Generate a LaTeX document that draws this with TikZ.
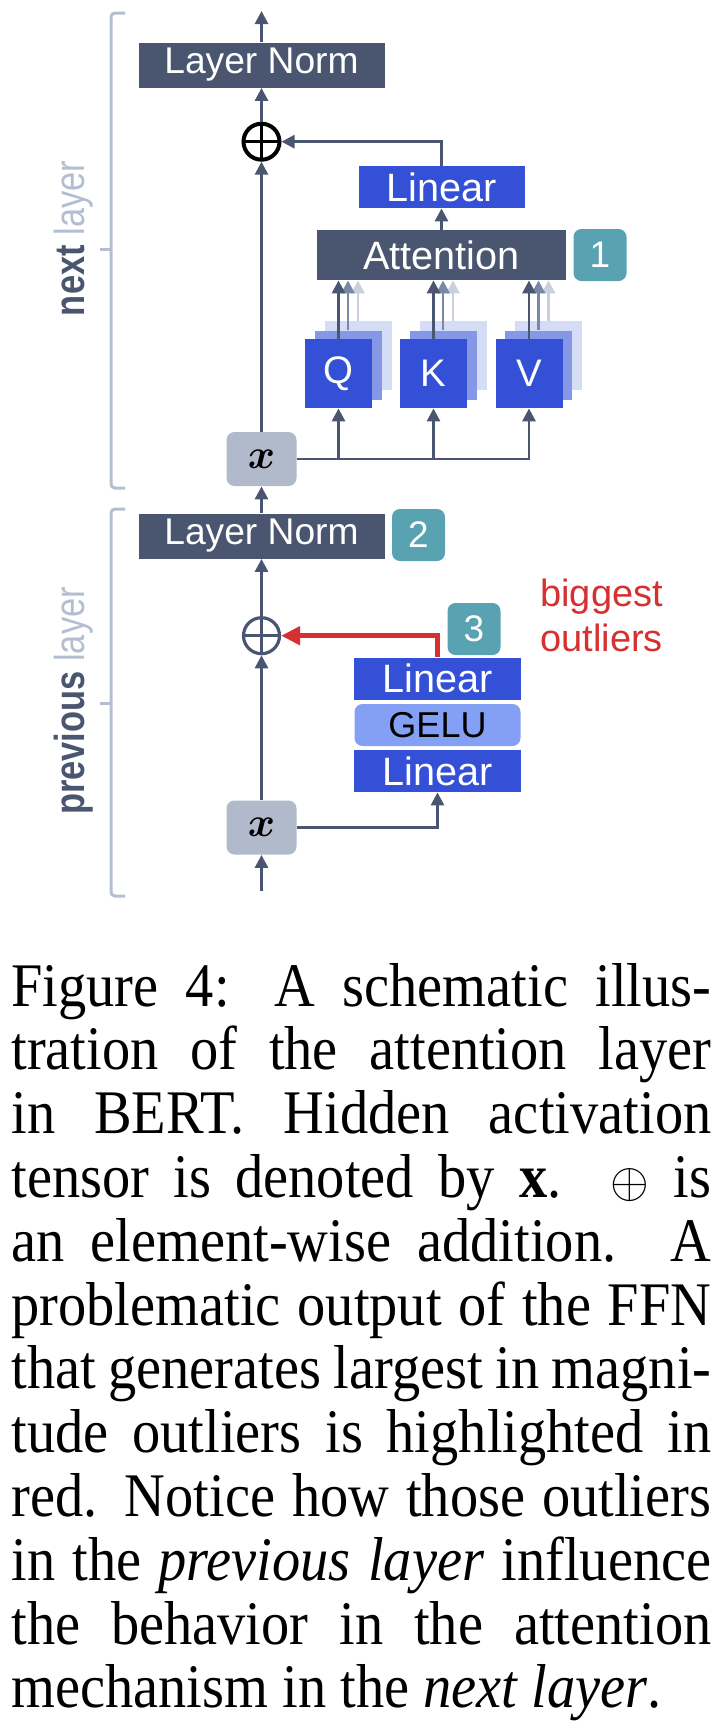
\documentclass[tikz,border=0pt]{standalone}
\usepackage{fontspec}
\setmainfont{Liberation Serif}
\newfontfamily\capfont[FakeStretch=0.91]{Liberation Serif}
\newfontfamily\dsans{Liberation Sans}
\newfontfamily\csans[FakeStretch=0.82]{Liberation Sans}
\usepackage{bm}
\usetikzlibrary{arrows.meta}
\definecolor{slate}{HTML}{4A5670}
\definecolor{qblue}{HTML}{3350D6}
\definecolor{qbluemid}{HTML}{8598E6}
\definecolor{qblueback}{HTML}{D5DCF6}
\definecolor{gelufill}{HTML}{84A0F5}
\definecolor{badgeteal}{HTML}{58A2B2}
\definecolor{xgray}{HTML}{B0BACB}
\definecolor{brk}{HTML}{B3BED1}
\definecolor{arrmid}{HTML}{7A88A8}
\definecolor{arrback}{HTML}{C8D0DE}
\definecolor{outred}{HTML}{D63031}
\tikzset{
  darkbox/.style={fill=slate, text=white, inner sep=0pt, font=\dsans\fontsize{19.8}{22}\selectfont},
  lnbox/.style={darkbox, minimum width=123pt, minimum height=22.5pt, font=\dsans\fontsize{18.6}{22}\selectfont},
  bluebox/.style={fill=qblue, text=white, inner sep=0pt, font=\dsans\fontsize{19.8}{22}\selectfont},
  ffnbox/.style={bluebox, minimum width=83.5pt, minimum height=21pt},
  qkv/.style={fill=qblue, text=white, inner sep=0pt, minimum width=33.5pt, minimum height=34.5pt, font=\dsans\fontsize{19.2}{22}\selectfont},
  qkvmid/.style={fill=qbluemid, inner sep=0pt, minimum width=33.5pt, minimum height=34.5pt},
  qkvback/.style={fill=qblueback, inner sep=0pt, minimum width=33.5pt, minimum height=34.5pt},
  badge/.style={fill=badgeteal, text=white, rounded corners=4pt, inner sep=0pt, minimum width=26.5pt, minimum height=26pt, font=\dsans\fontsize{18.5}{22}\selectfont},
  xbox/.style={fill=xgray, rounded corners=4pt, inner sep=0pt, minimum width=35pt, minimum height=27pt, font=\fontsize{22}{24}\selectfont},
  opl/.style={circle, draw=#1, line width=1.6pt, minimum size=18pt, inner sep=0pt,
    path picture={\draw[#1, line width=1.6pt] (path picture bounding box.north) -- (path picture bounding box.south)
      (path picture bounding box.west) -- (path picture bounding box.east);}},
  conn/.style={draw=slate, line width=1.4pt, -{Triangle[length=6.5pt,width=6.5pt]}},
  redconn/.style={draw=outred, line width=2.4pt, -{Triangle[length=9.5pt,width=9pt]}},
  brkline/.style={draw=brk, line width=1.5pt},
  sidelabel/.style={rotate=90, anchor=base, inner sep=0pt, font=\csans\fontsize{21}{24}\selectfont},
  capline/.style={anchor=base west, inner sep=0pt, font=\capfont\fontsize{31}{32}\selectfont},
}
\begin{document}
\begin{tikzpicture}[x=0.5pt,y=-0.5pt]
\useasboundingbox (0,0) rectangle (724,1730);
% ---------- next layer ----------
\node[lnbox] (ln1) at (261.5,65) {Layer Norm};
\coordinate (top) at (261.5,11);
\node[opl=black, line width=2pt] (op1) at (261.5,141.7) {};
\node[ffnbox, minimum width=83pt] (lin1) at (441.5,187) {Linear};
\node[darkbox, minimum width=124.5pt, minimum height=25pt] (att) at (441.5,255) {Attention};
\node[badge] (b1) at (600,255) {1};
% Q K V stacks
\foreach \n/\cx in {q/338.5,k/433.5,v/529} {
  \node[qkvback] (\n3) at (\cx+19.5,355.5) {};
  \node[qkvmid] (\n2) at (\cx+9.5,365) {};
}
\node[qkv] (q) at (338.5,373.5) {Q};
\node[qkv] (k) at (433.5,373.5) {K};
\node[qkv] (v) at (529,373.5) {V};
\node[xbox] (xn) at (261.5,459) {$\bm{x}$};
% connectors next layer
\draw[conn] (ln1.north) -- (top);
\draw[conn] (op1.north) -- (ln1.south);
\draw[conn] (xn.north) -- (op1.south);
\draw[conn] (lin1.north) |- (op1.east);
\draw[conn] (att.north) -- (lin1.south);
\foreach \n in {q,k,v} {
  \draw[conn, draw=arrback] (\n3.north) -- (\n3.north |- att.south);
  \draw[conn, draw=arrmid] (\n2.north) -- (\n2.north |- att.south);
  \draw[conn] (\n.north) -- (\n.north |- att.south);
  \draw[conn] (xn.east) -| (\n.south);
}
% ---------- previous layer ----------
\node[lnbox] (ln2) at (261.5,536) {Layer Norm};
\node[badge] (b2) at (418.5,535) {2};
\node[opl=slate] (op2) at (261.5,635.7) {};
\node[badge] (b3) at (474,629) {3};
\node[ffnbox] (lin2) at (437.5,678.5) {Linear};
\node[fill=gelufill, rounded corners=4pt, inner sep=0pt, minimum width=83pt, minimum height=21pt,
      font=\dsans\fontsize{18}{20}\selectfont] (gelu) at (437.5,725) {GELU};
\node[ffnbox] (lin3) at (437.5,771) {Linear};
\node[xbox] (xp) at (261.5,827.5) {$\bm{x}$};
\coordinate (bot) at (261.5,891);
\node[anchor=north west, inner sep=0pt, align=left, text=outred,
      font=\dsans\fontsize{19}{22.5}\selectfont] (big) at (540,579) {biggest\\outliers};
\draw[conn] (ln2.north) -- (xn.south);
\draw[conn] (op2.north) -- (ln2.south);
\draw[conn] (xp.north) -- (op2.south);
\draw[conn] (xp.east) -| (lin3.south);
\draw[conn] (bot) -- (xp.south);
\draw[redconn] (lin2.north) |- (op2.east);
% ---------- brackets ----------
\draw[brkline, rounded corners=2pt] (125,13) -- (111,13) -- (111,488) -- (125,488);
\draw[brkline] (111,249) -- (100,249);
\draw[brkline, rounded corners=2pt] (125,509) -- (111,509) -- (111,896) -- (125,896);
\draw[brkline] (111,703) -- (100,703);
\node[sidelabel] (nl) at (84,238.5)
  {\textcolor{slate}{\bfseries next} \textcolor{brk}{layer}};
\node[sidelabel] (pl) at (84,701)
  {\textcolor{slate}{\bfseries previous} \textcolor{brk}{layer}};
% ---------- caption ----------
\node[capline] (c1) at (11,1006) {\makebox[350pt][s]{Figure 4: A schematic illus-}};
\node[capline] (c2) at (11,1069.8) {\makebox[350pt][s]{tration of the attention layer}};
\node[capline] (c3) at (11,1133.6) {\makebox[350pt][s]{in BERT. Hidden activation}};
\node[capline] (c4) at (11,1197.4) {\makebox[350pt][s]{tensor is denoted by \textbf{x}. $\oplus$ is}};
\node[capline] (c5) at (11,1261.2) {\makebox[350pt][s]{an element-wise addition. A}};
\node[capline] (c6) at (11,1325) {\makebox[350pt][s]{problematic output of the FFN}};
\node[capline] (c7) at (11,1388.8) {\makebox[350pt][s]{that generates largest in magni-}};
\node[capline] (c8) at (11,1452.6) {\makebox[350pt][s]{tude outliers is highlighted in}};
\node[capline] (c9) at (11,1516.4) {\makebox[350pt][s]{red. Notice how those outliers}};
\node[capline] (c10) at (11,1580.2) {\makebox[350pt][s]{in the \textit{previous layer} influence}};
\node[capline] (c11) at (11,1644) {\makebox[350pt][s]{the behavior in the attention}};
\node[capline] (c12) at (11,1707.8) {mechanism in the \textit{next layer}.};
\end{tikzpicture}
\end{document}
